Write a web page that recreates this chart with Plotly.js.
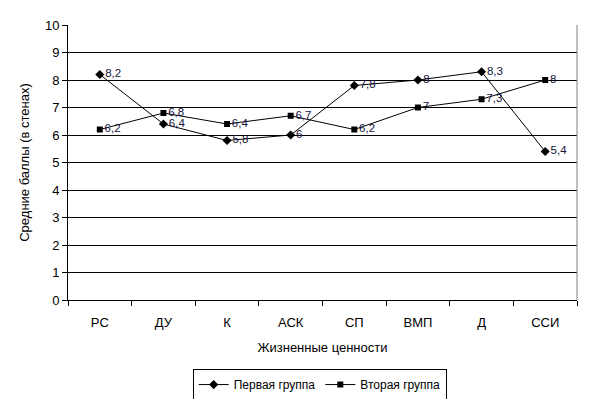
<!DOCTYPE html>
<html><head><meta charset="utf-8">
<script src="https://cdn.plot.ly/plotly-3.0.1.min.js"></script>
<style>body{margin:0;background:#fff}#c{width:592px;height:399px}</style>
</head><body><div id="c"></div>
<script>
var categories = ['РС','ДУ','К','АСК','СП','ВМП','Д','ССИ'];
var group1 = [8.2, 6.4, 5.8, 6, 7.8, 8, 8.3, 5.4];
var group2 = [6.2, 6.8, 6.4, 6.7, 6.2, 7, 7.3, 8];
var seriesNames = ['Первая группа','Вторая группа'];
var yTicks = [0,1,2,3,4,5,6,7,8,9,10];
function lbl(v){return String(v).replace('.',',');}
var font = 'Liberation Sans, Arial, sans-serif';
var traces = [
 {x:categories,y:group1,name:seriesNames[0],type:'scatter',mode:'lines+markers+text',
  line:{color:'#000',width:1},marker:{symbol:'diamond',size:7,color:'#000'},
  text:group1.map(lbl),textposition:'middle right',textfont:{family:font,size:11.5,color:'#14143c'},cliponaxis:false},
 {x:categories,y:group2,name:seriesNames[1],type:'scatter',mode:'lines+markers+text',
  line:{color:'#000',width:1},marker:{symbol:'square',size:6,color:'#000'},
  text:group2.map(lbl),textposition:'middle right',textfont:{family:font,size:11.5,color:'#14143c'},cliponaxis:false}
];
var layout = {
 width:592,height:399,margin:{l:68,r:15,t:25,b:99,autoexpand:false},
 paper_bgcolor:'#fff',plot_bgcolor:'#fff',
 font:{family:font,size:13,color:'#000'},
 showlegend:true,
 legend:{orientation:'h',x:0.54,xref:'container',xanchor:'center',y:0.075,yref:'container',yanchor:'top',bordercolor:'#000',borderwidth:1,
   font:{family:font,size:12,color:'#000'},tracegroupgap:0,itemwidth:30},
 xaxis:{type:'category',tickson:'boundaries',ticks:'outside',ticklen:5,tickcolor:'#000',automargin:false,
   showline:true,linecolor:'#000',linewidth:1,showgrid:false,zeroline:false,ticklabelstandoff:10,
   tickfont:{family:font,size:13},title:{text:'Жизненные ценности',font:{family:font,size:13},standoff:14},
   range:[-0.5,7.5]},
 yaxis:{range:[0,10],tickvals:yTicks,ticktext:yTicks.map(String),ticks:'outside',ticklen:5,tickcolor:'#000',automargin:false,
   showline:true,linecolor:'#000',linewidth:1,showgrid:true,gridcolor:'#000',gridwidth:1,zeroline:false,
   tickfont:{family:font,size:13},title:{text:'Средние баллы (в стенах)',font:{family:font,size:13},standoff:12}},
 shapes:[{type:'line',xref:'paper',yref:'paper',x0:1,x1:1,y0:0,y1:1,line:{color:'#808080',width:1}}]
};
Plotly.newPlot('c',traces,layout,{displayModeBar:false,staticPlot:true});
</script></body></html>
